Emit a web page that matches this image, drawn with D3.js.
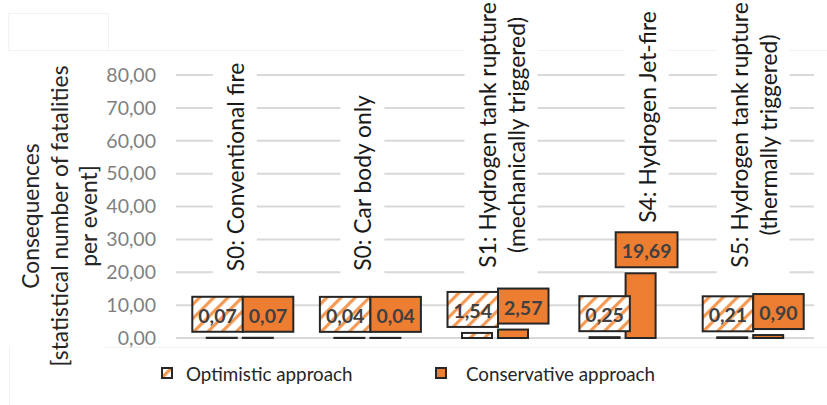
<!DOCTYPE html>
<html>
<head>
<meta charset="utf-8">
<script src="https://cdn.jsdelivr.net/npm/d3@7"></script>
<style>
  html, body { margin: 0; padding: 0; background: #fff; }
  svg { display: block; }
</style>
</head>
<body>
<svg id="chart" width="827" height="405"></svg>
<script>
// Scenario categories (label lines)
const categories = [
  ["S0: Conventional fire"],
  ["S0: Car body only"],
  ["S1: Hydrogen tank rupture", "(mechanically triggered)"],
  ["S4: Hydrogen Jet-fire"],
  ["S5: Hydrogen tank rupture", "(thermally triggered)"]
];
const categoryKeys = ["S0a", "S0b", "S1", "S4", "S5"];

// Statistical number of fatalities per event
const optimistic   = [0.07, 0.04, 1.54, 0.25, 0.21];
const conservative = [0.07, 0.04, 2.57, 19.69, 0.90];

const seriesNames = ["Optimistic approach", "Conservative approach"];
const yTicks = [0, 10, 20, 30, 40, 50, 60, 70, 80];
const yTitle = ["Consequences", "[statistical number of fatalities", "per event]"];

// Placement of the rotated scenario captions: horizontal shift from the
// category centre and vertical centre of the caption block
const captionLayout = [
  { dx: -5, cy: 167 },
  { dx: -5, cy: 183 },
  { dx: 6,  cy: 135 },
  { dx: 24, cy: 117 },
  { dx: 3,  cy: 135 }
];

const FONT = "Lato, 'Open Sans', sans-serif";
const ORANGE = "#ED7D31";
const OUTLINE = "#262626";
const GRID = "#d9d9d9";
const fmt = v => d3.format(".2f")(v).replace(".", ",");

const svg = d3.select("#chart");
const defs = svg.append("defs");

// diagonal orange hatch used by the optimistic series
const hatch = defs.append("pattern")
  .attr("id", "hatch")
  .attr("patternUnits", "userSpaceOnUse")
  .attr("width", 10).attr("height", 10)
  .attr("patternTransform", "rotate(45)");
hatch.append("rect").attr("width", 10).attr("height", 10).attr("fill", "#fff");
hatch.append("rect").attr("x", 0).attr("width", 3.2).attr("height", 10).attr("fill", "#F39A54");

const fills = ["url(#hatch)", ORANGE];

// faint chart frame remnants
const frame = svg.append("g").attr("stroke", "#f2f2f2").attr("fill", "none").attr("stroke-width", 1);
frame.append("rect").attr("x", 8.5).attr("y", 13.5).attr("width", 100).attr("height", 37);
frame.append("line").attr("x1", 108).attr("x2", 827).attr("y1", 50.5).attr("y2", 50.5);
frame.append("line").attr("x1", 105).attr("x2", 827).attr("y1", 347.5).attr("y2", 347.5);
frame.append("line").attr("x1", 9.5).attr("x2", 9.5).attr("y1", 347).attr("y2", 405);

const x = d3.scaleBand().domain(categoryKeys).range([176, 814]).padding(0);
const y = d3.scaleLinear().domain([0, 80]).range([338, 75]);

const barW = 30, barGap = 6;

// gridlines
svg.append("g")
  .selectAll("line")
  .data(yTicks)
  .join("line")
  .attr("x1", 176).attr("x2", 814)
  .attr("y1", d => y(d)).attr("y2", d => y(d))
  .attr("stroke", GRID).attr("stroke-width", 2);

// y axis labels
const yAxis = d3.axisLeft(y).tickValues(yTicks).tickFormat(fmt).tickSize(0).tickPadding(0);
const yg = svg.append("g").attr("transform", "translate(156,0)").call(yAxis);
yg.select(".domain").remove();
yg.selectAll("text")
  .attr("font-family", FONT)
  .attr("font-size", 19.5)
  .attr("fill", "#7f7f7f");

// y axis title
const yt = svg.append("text")
  .attr("transform", "translate(59,216) rotate(-90)")
  .attr("text-anchor", "middle")
  .attr("font-family", FONT)
  .attr("font-size", 22.8)
  .attr("fill", "#262626");
yTitle.forEach((t, i) => {
  yt.append("tspan")
    .attr("x", 0)
    .attr("y", (i - (yTitle.length - 1) / 2) * 29)
    .attr("dominant-baseline", "central")
    .text(t);
});

// rotated scenario captions on white boxes
const capLH = 29;
const capG = svg.append("g");
categories.forEach((lines, i) => {
  const cx = x(categoryKeys[i]) + x.bandwidth() / 2 + captionLayout[i].dx;
  const cy = captionLayout[i].cy;
  const g = capG.append("g");
  const txt = g.append("text")
    .attr("transform", `translate(${cx},${cy}) rotate(-90)`)
    .attr("text-anchor", "middle")
    .attr("font-family", FONT)
    .attr("font-size", 22.8)
    .attr("fill", "#1a1a1a");
  lines.forEach((t, j) => {
    txt.append("tspan")
      .attr("x", 0)
      .attr("y", (j - (lines.length - 1) / 2) * capLH)
      .attr("dominant-baseline", "central")
      .text(t);
  });
  const len = d3.max(txt.selectAll("tspan").nodes(), n => n.getComputedTextLength());
  const w = lines.length * capLH + 15;
  const top = cy - len / 2 - 10;
  g.insert("rect", "text")
    .attr("x", cx - w / 2).attr("y", top)
    .attr("width", w).attr("height", 281 - top)
    .attr("fill", "#fff");
});

// bars
const seriesData = [optimistic, conservative];
const barG = svg.append("g");
seriesData.forEach((vals, s) => {
  barG.selectAll(`rect.s${s}`)
    .data(vals)
    .join("rect")
    .attr("class", `s${s}`)
    .attr("x", (d, i) => x(categoryKeys[i]) + x.bandwidth() / 2 + (s === 0 ? -(barW + barGap / 2) : barGap / 2))
    .attr("y", d => y(d))
    .attr("width", barW)
    .attr("height", d => Math.max(0, y(0) - y(d)))
    .attr("fill", fills[s])
    .attr("stroke", OUTLINE)
    .attr("stroke-width", 2);
});

// data labels
const lblG = svg.append("g");
const lblH = 35, lblPad = 6;
categoryKeys.forEach((k, i) => {
  const c = x(k) + x.bandwidth() / 2;
  const items = seriesData.map((vals, s) => {
    const v = vals[i];
    const barCx = c + (s === 0 ? -(barW + barGap) / 2 : (barW + barGap) / 2);
    const t = lblG.append("text")
      .attr("font-family", FONT)
      .attr("font-weight", 700)
      .attr("font-size", 19.5)
      .attr("fill", "#404040")
      .attr("text-anchor", "middle")
      .attr("dominant-baseline", "central")
      .text(fmt(v));
    const w = t.node().getComputedTextLength() + 2 * lblPad;
    const bottom = y(v) - 6;
    return { t, w, cx: barCx + (s === 1 && v > 10 ? 6 : 0), top: bottom - lblH, bottom, s };
  });
  const [a, b] = items;
  const vOverlap = a.top < b.bottom && b.top < a.bottom;
  const hOverlap = (a.cx + a.w / 2) > (b.cx - b.w / 2);
  if (vOverlap && hOverlap) {
    const meet = c + 3;
    a.cx = meet - a.w / 2;
    b.cx = meet + b.w / 2;
  }
  items.forEach(it => {
    lblG.insert("rect", "text")
      .attr("x", it.cx - it.w / 2).attr("y", it.top)
      .attr("width", it.w).attr("height", lblH)
      .attr("fill", fills[it.s])
      .attr("stroke", OUTLINE)
      .attr("stroke-width", 2);
    it.t.attr("x", it.cx).attr("y", it.top + lblH / 2 + 1).raise();
  });
});

// legend
const legend = svg.append("g");
const legendPos = [{ mx: 162, tx: 186 }, { mx: 436, tx: 466 }];
seriesNames.forEach((name, s) => {
  legend.append("rect")
    .attr("x", legendPos[s].mx).attr("y", 368)
    .attr("width", 10).attr("height", 10)
    .attr("fill", fills[s])
    .attr("stroke", OUTLINE).attr("stroke-width", 2);
  legend.append("text")
    .attr("x", legendPos[s].tx).attr("y", 373)
    .attr("dominant-baseline", "central")
    .attr("font-family", FONT)
    .attr("font-size", 18.8)
    .attr("fill", "#262626")
    .text(name);
});
</script>
</body>
</html>
